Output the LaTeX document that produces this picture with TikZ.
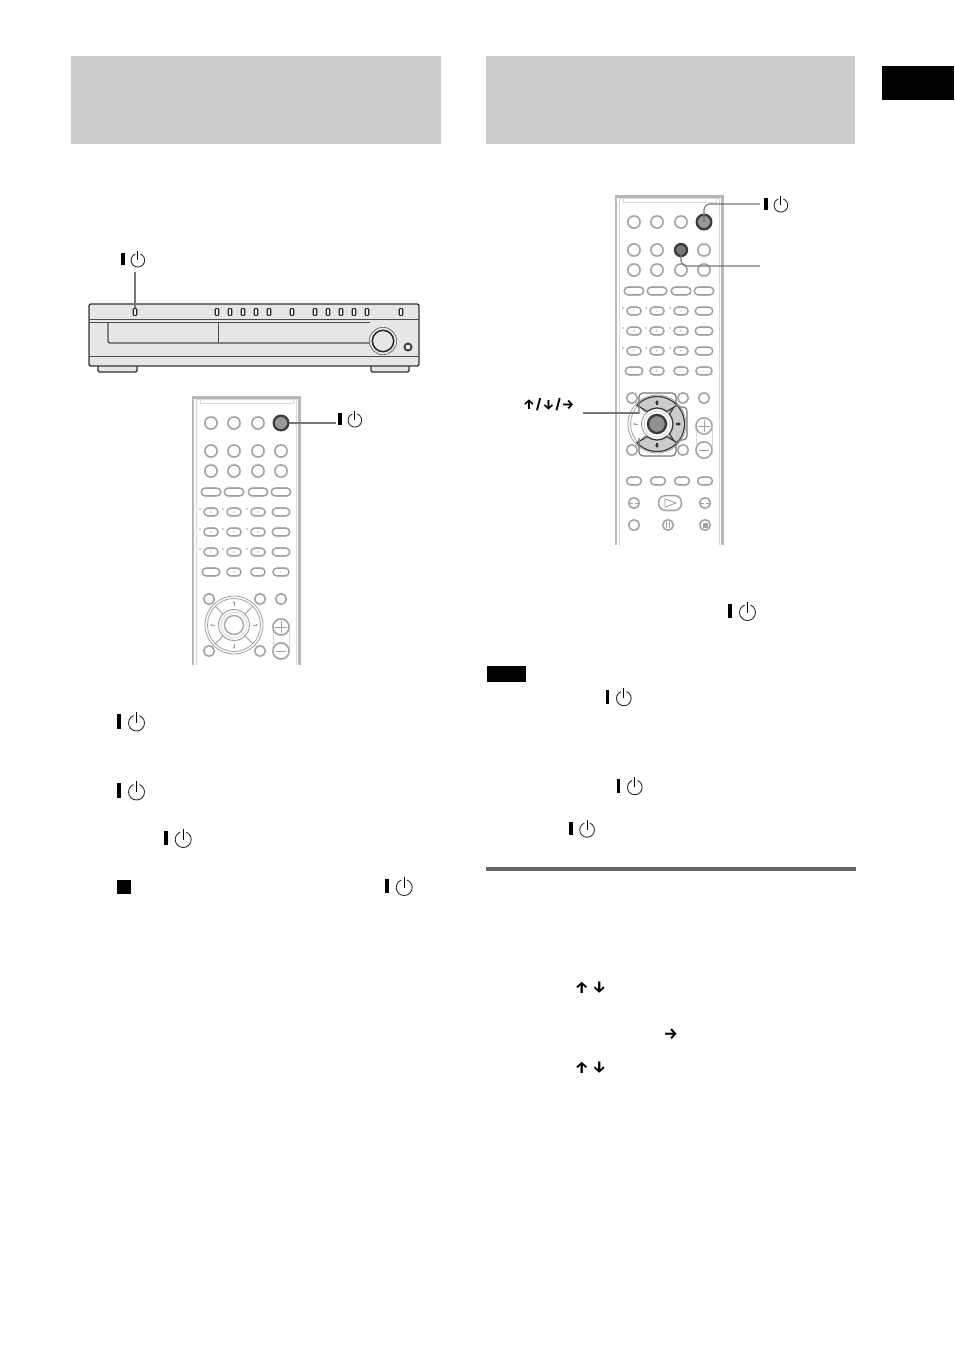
\documentclass[tikz,border=0pt]{standalone}
\usepackage{fontspec}
\newfontfamily\arrowfont{Fira Sans}
\usetikzlibrary{positioning,arrows.meta,calc}
\definecolor{headgray}{HTML}{CCCCCC}
\definecolor{rulegray}{HTML}{666666}
\definecolor{keygray}{HTML}{A0A0A0}
\definecolor{palegray}{HTML}{D8D8D8}
\definecolor{railgray}{HTML}{B8B8B8}
\definecolor{leadgray}{HTML}{777777}
\definecolor{bodygray}{HTML}{E6E6E6}
\definecolor{darkkey}{HTML}{3A3A3A}

\begin{document}
\begin{tikzpicture}[
  x=.75pt, y=-.75pt,
  band/.style={fill=headgray, draw=none},
  solid box/.style={fill=black, draw=none},
  key/.style={circle, draw=keygray, fill=white, line width=1pt, minimum size=9pt, inner sep=0pt,
    preaction={draw=palegray, line width=1.8pt}},
  small key/.style={key, minimum size=7.8pt},
  oval/.style={draw=keygray, fill=white, line width=1pt, rounded corners=2.9pt, minimum width=#1,
    minimum height=5.8pt, inner sep=0pt, font=\sffamily\fontsize{3}{3}\selectfont, text=keygray,
    preaction={draw=palegray, line width=1.4pt}},
  oval/.default=10.5pt,
  hotkey/.style={circle, draw=darkkey, fill=#1, line width=1.7pt, minimum size=10.5pt, inner sep=0pt},
  rail/.style={draw=railgray, line width=1.9pt},
  thinrail/.style={draw=palegray, line width=.7pt},
  lead/.style={draw=leadgray, line width=.8pt, rounded corners=4pt},
  case/.style={draw=black!80, line width=1pt},
  caseline/.style={draw=black!70, line width=.7pt},
  led/.style={draw=black!85, fill=white, line width=.85pt, rounded corners=.5pt, minimum width=2.6pt,
    minimum height=5pt, inner sep=0pt},
  wedge/.style={draw=darkkey, fill=headgray, line width=.9pt},
  arrowtext/.style={font=\arrowfont\bfseries\fontsize{#1}{#1}\selectfont, inner sep=0pt},
  arrowtext/.default=12,
  pics/powersign/.style={code={
    \fill[black] (-1.9,-7.2) rectangle (1.9,7.2);
    \draw[black!85, line width=.65pt] (17.5,1.5) ++(292:8) arc (292:608:8);
    \draw[black, line width=.85pt] (17.5,-9.5) -- (17.5,1.5);
  }},
  pics/remote/.style={code={
    % frame
    \draw[rail] (1.2,#1) -- (1.2,1.5) -- (107.5,1.5) -- (107.5,#1);
    \draw[thinrail] (4,#1) -- (4,3) -- (104.7,3) -- (104.7,#1);
    \draw[thinrail] (8,3) -- (8,7) -- (101,7) -- (101,3);
    % round keys
    \foreach \c/\cx in {1/19,2/42,3/66,4/89}
      \foreach \r/\ry in {1/27,2/55,3/75}
        \node[key] (-k\r-\c) at (\cx,\ry) {};
    % oval keys
    \foreach \cx in {19,42,66,89}
      \node[oval=14.5pt] at (\cx,96) {};
    \foreach \ry/\a/\b/\d in {116/1/2/3,136/4/5/6,156/7/8/9} {
      \node[oval] at (19,\ry) {\a};
      \node[oval] at (42,\ry) {\b};
      \node[oval] at (66,\ry) {\d};
      \node[oval=13pt] at (89,\ry) {};
      \foreach \cx in {8,31,55}
        \fill[keygray] (\cx,\ry-3) circle[radius=.8];
    }
    \node[oval=13pt] at (19,176) {};
    \node[oval] at (42,176) {0};
    \node[oval] at (66,176) {\textminus};
    \node[oval=12pt] at (89,176) {+};
    % lower keys
    \foreach \cx/\ry in {17/203,68/203,89/203,17/255,68/255}
      \node[small key] at (\cx,\ry) {};
    % volume
    \draw[thinrail] (81,231) -- (81,255) (97,231) -- (97,255);
    \node[key, minimum size=12pt] (-volup) at (89,231) {};
    \node[key, minimum size=12pt] (-voldn) at (89,255) {};
    \draw[keygray, line width=.7pt] (83,231) -- (95,231) (89,225) -- (89,237) (84,255) -- (94,255);
    % pad
    \coordinate (-pad) at (42,229);
    \draw[keygray, line width=.6pt] (-pad) circle[radius=29];
    \draw[keygray, line width=.6pt] (-pad) circle[radius=26.5];
    \draw[keygray, line width=.7pt] (-pad) circle[radius=15.5];
    \foreach \a in {45,135,225,315}
      \draw[keygray, line width=.7pt] ($(-pad)+(\a:15.5)$) -- ($(-pad)+(\a:26.5)$);
    \foreach \a in {0,90,180,270}
      \draw[keygray, line width=.6pt, -{Latex[length=1.8pt,width=2.4pt]}] ($(-pad)+(\a:19)$) -- ($(-pad)+(\a:24)$);
    \draw[palegray, line width=.7pt] (-pad) circle[radius=13];
    \node[key, minimum size=14pt, line width=.8pt] (-ok) at (-pad) {};
  }}
]

% header bands and page marks
\fill[band] (71,56) rectangle (441,144);
\fill[band] (486,56) rectangle (855,144);
\fill[solid box] (882,66) rectangle (954,100);
\fill[solid box] (487,666) rectangle (526,682);
\fill[rulegray] (486,867) rectangle (856,871);
\fill[solid box] (117,880) rectangle (131,894);

% front panel
\draw[case, fill=bodygray, rounded corners=1pt] (98,360) -- (98,372) -- (137,372) -- (137,360);
\draw[case, fill=bodygray, rounded corners=1pt] (371,360) -- (371,372) -- (409,372) -- (409,360);
\draw[case, fill=bodygray, rounded corners=1.5pt] (89,304) rectangle (419,366);
\draw[caseline] (89,319) -- (419,319);
\draw[caseline] (89,322.5) -- (370,322.5);
\draw[caseline] (89,356) -- (419,356);
\draw[caseline, line width=1pt, rounded corners=1.5pt] (108,322.5) -- (108,343) -- (372,343);
\draw[caseline, line width=1pt] (218.5,322.5) -- (218.5,343);
\node[circle, draw=black!60, fill=bodygray, line width=.5pt, minimum size=20.5pt, inner sep=0pt] (knobring) at (383,341) {};
\node[circle, draw=black!85, fill=bodygray, line width=1.1pt, minimum size=16pt, inner sep=0pt] (knob) at (knobring) {};
\node[circle, draw=black!75, fill=white, line width=1.5pt, minimum size=5.2pt, inner sep=0pt] (jack) at (408,347) {};
\node[led] (powerled) at (135,312) {};
\foreach \x in {217,230,243,256,269,292,315,328,341,354,367,401}
  \node[led] (led\x) at (\x,312) {};

% left remote
\pic (lr) at (192,396) {remote=269};
\node[hotkey=keygray!95!black, minimum size=11pt] (lrpower) at (lr-k1-4) {};

% right remote
\pic (rr) at (615,195) {remote=350};
\node[hotkey=keygray!95!black, minimum size=11pt] (rrpower) at (rr-k1-4) {};
\node[hotkey=leadgray, minimum size=9pt] (rrsel) at (rr-k2-3) {};

% lower keys of right remote
\foreach \x in {634,658,682,705}
  \node[oval=11pt] (tr\x) at (\x,481) {};
\foreach \x in {634,705}
  \node[small key] (mid\x) at (\x,503) {};
\foreach \x in {634,668,705}
  \node[small key] (low\x) at (\x,525) {};
\node[oval=17pt, minimum height=11pt, rounded corners=5pt] (play) at (670,503) {};
\draw[keygray, line width=.6pt] (665,499) -- (665,507) -- (676,503) -- cycle;
\draw[keygray, line width=.7pt] (666.5,522) -- (666.5,528) (669.5,522) -- (669.5,528);
\fill[keygray] (702.5,522.5) rectangle (707.5,527.5);
\foreach \x in {631,637} \draw[keygray, line width=.6pt] (\x-2,503) -- (\x+2,503);
\foreach \x in {702,708} \draw[keygray, line width=.6pt] (\x-2,503) -- (\x+2,503);

% highlighted pad
\foreach \a in {0,90,270}
  \draw[wedge] ($(rr-pad)+(\a-47:27.5)$) arc (\a-47:\a+47:27.5)
    -- ($(rr-pad)+(\a+38:16)$) arc (\a+38:\a-38:16) -- cycle;
\foreach \a in {0,90,270}
  \draw[black!80, line width=.8pt, -{Latex[length=2.2pt,width=3.2pt]}] ($(rr-pad)+(\a:19)$) -- ($(rr-pad)+(\a:24)$);
\node[hotkey=leadgray!80!white, minimum size=13.5pt] (rrok) at (rr-pad) {};
\draw[leadgray, line width=.9pt, rounded corners=3pt] (639,414) -- (639,393) -- (676,393) -- (676,407) -- (687,407)
  -- (687,440) -- (676,440) -- (676,456) -- (639,456) -- (639,438);

% labels of the figures
\pic[scale=.85] at (123,259) {powersign};
\pic[scale=.85] at (340,419) {powersign};
\pic[scale=.85] at (766,204) {powersign};
\coordinate (panellabel) at (135,272);
\coordinate (lrlabel) at (336,423);
\coordinate (rrlabel) at (760,204);
\coordinate (sellabel) at (760,266);
\coordinate (padedge) at (639,413);
\node[arrowtext=10.3] (padlabel) at (548.5,405) {↑/↓/→};
\coordinate (padstart) at (583,413);

% leads
\draw[lead] (panellabel) -- (powerled);
\draw[lead] (lrpower) -- (lrlabel);
\draw[lead] (rrpower.center) |- (rrlabel);
\draw[lead] (rrsel.center) |- (sellabel);
\draw[lead] (padstart) -- (padedge);

% symbols in the text
\foreach \px/\py in {119/721.5,119/790.5,165.7/838,386.7/886,730/611}
  \pic at (\px,\py) {powersign};
\foreach \px/\py in {607.7/697,618.7/786,571/828.5}
  \pic[scale=.92] at (\px,\py) {powersign};
\node[arrowtext] (arrowup) at (581.7,988) {↑};
\node[arrowtext] (arrowdown) at (599.3,988) {↓};
\node[arrowtext] (arrowright) at (670.7,1034) {→};
\node[arrowtext] (arrowuptwo) at (581.7,1068) {↑};
\node[arrowtext] (arrowdowntwo) at (599.3,1068) {↓};

\useasboundingbox (0,0) rectangle (954,1352);
\end{tikzpicture}
\end{document}
